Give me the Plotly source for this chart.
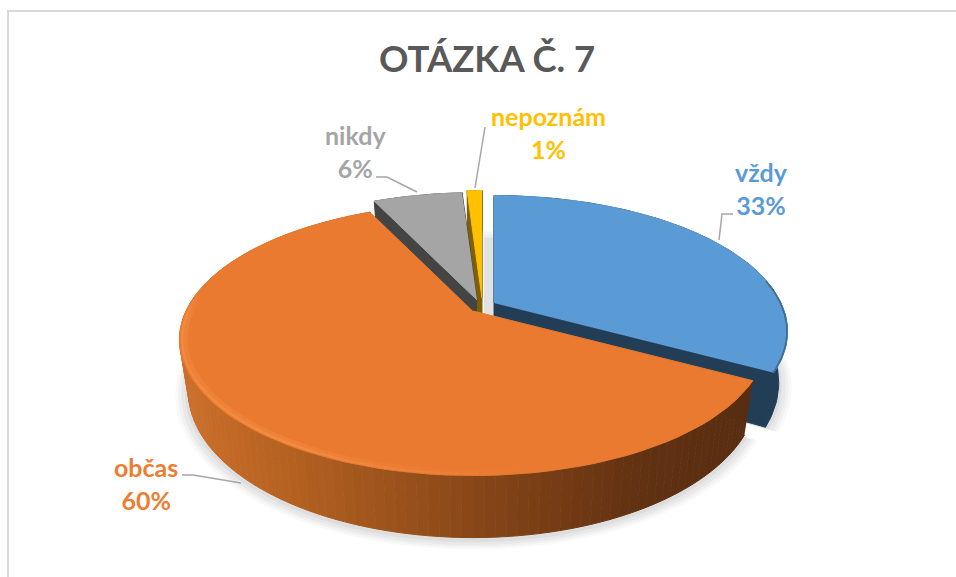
import numpy as np
import plotly.graph_objects as go

# ---- data ----
categories = ["vždy", "občas", "nikdy", "nepoznám"]
values = [33, 60, 6, 1]
title_text = "OTÁZKA Č. 7"

# ---- style ----
top_colors = ["#5b9bd5", "#ea7a30", "#a5a5a5", "#ffc000"]
side_colors = ["#223e57", None, "#444444", "#7f6000"]
label_colors = ["#5b9bd5", "#ed7d31", "#a5a5a5", "#ffc000"]
offsets = {0: (14, 3), 1: (-7, 11), 2: (-3, 0), 3: (2, -2)}
CX, CY = 480, 300
A, B, K, H, TAPER = 287, 130, 0.21, 49, 0.03
label_pos = [(761, 188.5), (146, 483), (355, 151.5), (548, 132)]
leaders = [
    "M719,240 L722,214 L733,214",
    "M182,475 L193,475 L241,483",
    "M376,177 L387,177 L417,192",
    "M475,188 L485,127",
]
orange_stops = [(178, (205, 112, 44)), (300, (178, 96, 32)), (480, (135, 70, 24)),
                (640, (98, 50, 18)), (760, (88, 45, 16))]


def proj(theta, idx, z=0.0, r=1.0):
    u, v = r * np.sin(theta), -r * np.cos(theta)
    w = 1 - K * v
    ox, oy = offsets[idx]
    return CX + ox + A * u / w * (1 - TAPER * z), CY + oy + (B * v + H * z) / w


fig = go.Figure()


def poly(x, y, color, line=True):
    fig.add_trace(go.Scatter(
        x=list(x), y=list(y), mode="lines", fill="toself", fillcolor=color,
        line=dict(color=color if line else "rgba(0,0,0,0)", width=1 if line else 0),
        hoverinfo="skip", showlegend=False,
    ))


def stroke(x, y, color, width):
    fig.add_trace(go.Scatter(x=list(x), y=list(y), mode="lines",
                             line=dict(color=color, width=width),
                             hoverinfo="skip", showlegend=False))


def arc(t0, t1, idx, z=0.0, n=80, r=1.0):
    return proj(np.linspace(t0, t1, n), idx, z, r)


def apex(idx, z=0.0):
    ox, oy = offsets[idx]
    return CX + ox, CY + oy + H * z


def shade(x):
    xs = [s[0] for s in orange_stops]
    c = [np.interp(x, xs, [s[1][i] for s in orange_stops]) for i in range(3)]
    return "rgb(%d,%d,%d)" % tuple(c)


edges = np.cumsum([0] + values) / sum(values) * 2 * np.pi
spans = [(edges[i], edges[i + 1]) for i in range(len(values))]

# soft shadow below the pie
for grow, alpha in [(1.045, .025), (1.035, .03), (1.025, .035), (1.012, .04)]:
    for idx in (0, 1):
        t0, t1 = spans[idx]
        x, y = proj(np.linspace(t0, t1, 80), idx, 1.03, grow)
        ax, ay = apex(idx, 1.0)
        poly(list(x) + [ax], list(y) + [ay], f"rgba(0,0,0,{alpha})", line=False)

# gap shading between yellow and blue, fading out upward
for y0, col in [(232, "#f6f6f6"), (235, "#eeeeee"), (238, "#e2e2e2")]:
    poly([484, 493, 493, 484], [y0, y0, 316, 316], col)


def cut_and_side(idx, color):
    t0, t1 = spans[idx]
    xt, yt = arc(t0, t1, idx)
    xb, yb = arc(t0, t1, idx, 1.0)
    ax, ay = apex(idx)
    bx, by = apex(idx, 1.0)
    poly(list(xb) + list(xt[::-1]), list(yb) + list(yt[::-1]), color)
    for t in (t0, t1):
        ex, ey = proj(t, idx)
        fx, fy = proj(t, idx, 1.0)
        poly([ax, ex, fx, bx], [ay, ey, fy, by], color)


def top(idx):
    t0, t1 = spans[idx]
    xt, yt = arc(t0, t1, idx)
    ax, ay = apex(idx)
    poly([ax] + list(xt), [ay] + list(yt), top_colors[idx])


for idx in (3, 2):
    cut_and_side(idx, side_colors[idx])
    top(idx)
cut_and_side(0, side_colors[0])
top(0)

# thin dark rim fade on the blue slice
x, y = arc(np.radians(80), spans[0][1], 0, r=0.998)
stroke(x, y, "rgba(34,62,87,.5)", 1.5)

# orange slice: outer wall as graded strips, then its top
t0, t1 = spans[1]
ts = np.linspace(t0, t1, 121)
for a, b in zip(ts[:-1], ts[1:]):
    xa, ya = proj(np.array([a, b]), 1)
    xb, yb = proj(np.array([b, a]), 1, 1.0)
    poly(list(xa) + list(xb), list(ya) + list(yb), shade((xa[0] + xa[1]) / 2))
top(1)

# light rim on the front-left edge of the orange top, fading toward the front
ts = np.radians(np.linspace(170, 278, 37))
for i, (a, b) in enumerate(zip(ts[:-1], ts[1:])):
    f = min(1.0, i / 14) * min(1.0, (len(ts) - 2 - i) / 3 + 0.2)
    for r, base, w in [(0.982, .22, 5), (0.992, .4, 2.5)]:
        x, y = proj(np.array([a, b]), 1, 0.0, r)
        stroke(x, y, f"rgba(255,160,90,{base * f:.3f})", w)

annotations = [dict(
    x=p[0], y=p[1], xref="x", yref="y", showarrow=False,
    text=f"<b>{c}<br>{v}%</b>", align="center",
    font=dict(family="Lato", size=25, color=col),
) for c, v, col, p in zip(categories, values, label_colors, label_pos)]
annotations.append(dict(
    x=487, y=58, xref="x", yref="y", showarrow=False, text=f"<b>{title_text}</b>",
    font=dict(family="Lato", size=36.5, color="#595959"),
))

shapes = [dict(type="path", path=p, line=dict(color="#a6a6a6", width=1.5), xref="x", yref="y")
          for p in leaders]
shapes.append(dict(type="path", path="M8,577 L8,11 L956,11",
                   line=dict(color="#d9d9d9", width=2), xref="x", yref="y"))

fig.update_layout(
    width=956, height=577, margin=dict(l=0, r=0, t=0, b=0),
    paper_bgcolor="white", plot_bgcolor="white", showlegend=False,
    xaxis=dict(range=[0, 956], visible=False, fixedrange=True),
    yaxis=dict(range=[577, 0], visible=False, fixedrange=True),
    annotations=annotations, shapes=shapes,
)
fig.write_html("out.html", config=dict(displayModeBar=False),
               post_script="document.body.style.margin='0';document.body.style.overflow='hidden';")
